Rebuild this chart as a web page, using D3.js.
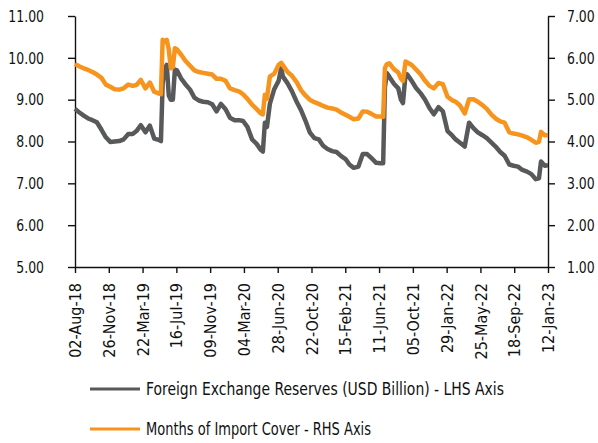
<!DOCTYPE html>
<html>
<head>
<meta charset="utf-8">
<script src="https://cdn.jsdelivr.net/npm/d3@7"></script>
<style>
  body { margin: 0; background: #fff; }
  svg text { font-family: "Liberation Sans Narrow", "DejaVu Sans", sans-serif; font-stretch: condensed; fill: #111; }
</style>
</head>
<body>
<div id="chart"></div>
<script>
// weekly-ish readings taken off the chart
const dates = [
  "2018-08-02","2018-08-16","2018-09-01","2018-09-16","2018-10-01","2018-10-16","2018-11-01","2018-11-16",
  "2018-12-01","2018-12-16","2019-01-01","2019-01-16","2019-02-01","2019-02-16","2019-03-01","2019-03-16",
  "2019-04-01","2019-04-16","2019-05-01","2019-05-16","2019-05-24","2019-05-30","2019-06-06","2019-06-13",
  "2019-06-20","2019-06-27","2019-07-04","2019-07-11","2019-07-18","2019-08-01","2019-08-16","2019-09-01",
  "2019-09-16","2019-10-01","2019-10-16","2019-11-01","2019-11-16","2019-12-01","2019-12-16","2020-01-01",
  "2020-01-16","2020-02-01","2020-02-16","2020-03-01","2020-03-16","2020-04-01","2020-04-16","2020-05-01",
  "2020-05-08","2020-05-15","2020-05-22","2020-06-01","2020-06-16","2020-07-01","2020-07-10","2020-07-16",
  "2020-08-01","2020-08-16","2020-09-01","2020-09-16","2020-10-01","2020-10-16","2020-11-01","2020-11-16",
  "2020-12-01","2020-12-16","2021-01-01","2021-01-16","2021-02-01","2021-02-16","2021-03-01","2021-03-16",
  "2021-04-01","2021-04-16","2021-05-01","2021-05-16","2021-06-01","2021-06-16","2021-06-25","2021-07-01",
  "2021-07-08","2021-07-16","2021-08-01","2021-08-16","2021-08-25","2021-09-01","2021-09-10","2021-09-16",
  "2021-10-01","2021-10-16","2021-11-01","2021-11-16","2021-12-01","2021-12-16","2022-01-01","2022-01-16",
  "2022-02-01","2022-02-16","2022-03-01","2022-03-16","2022-04-01","2022-04-16","2022-05-01","2022-05-16",
  "2022-06-01","2022-06-16","2022-07-01","2022-07-16","2022-08-01","2022-08-16","2022-09-01","2022-09-16",
  "2022-10-01","2022-10-16","2022-11-01","2022-11-16","2022-12-01","2022-12-12","2022-12-19","2023-01-01",
  "2023-01-12"
];

const fxReserves = [
  8.78, 8.70, 8.62, 8.55, 8.51, 8.46, 8.28, 8.10,
  7.99, 8.00, 8.01, 8.05, 8.18, 8.18, 8.25, 8.39,
  8.22, 8.38, 8.07, 8.04, 8.01, 9.40, 9.75, 9.83,
  9.10, 9.00, 9.00, 9.72, 9.70, 9.51, 9.37, 9.24,
  9.05, 8.98, 8.95, 8.94, 8.89, 8.72, 8.90, 8.77,
  8.57, 8.51, 8.51, 8.49, 8.35, 8.05, 7.95, 7.80,
  7.76, 8.45, 8.35, 8.90, 9.25, 9.45, 9.75, 9.55,
  9.39, 9.20, 8.95, 8.75, 8.50, 8.22, 8.08, 8.05,
  7.90, 7.82, 7.77, 7.75, 7.65, 7.58, 7.45, 7.37,
  7.40, 7.70, 7.70, 7.60, 7.49, 7.48, 7.48, 9.30,
  9.63, 9.55, 9.38, 9.27, 9.00, 8.92, 9.62, 9.60,
  9.45, 9.28, 9.15, 9.00, 8.80, 8.65, 8.82, 8.72,
  8.25, 8.15, 8.05, 7.97, 7.88, 8.45, 8.32, 8.22,
  8.15, 8.08, 7.98, 7.88, 7.75, 7.66, 7.45, 7.42,
  7.40, 7.32, 7.28, 7.22, 7.10, 7.12, 7.52, 7.42,
  7.43
];

const importCover = [
  5.85, 5.80, 5.75, 5.71, 5.66, 5.60, 5.52, 5.36,
  5.31, 5.25, 5.24, 5.27, 5.36, 5.33, 5.35, 5.47,
  5.27, 5.41, 5.19, 5.15, 5.13, 6.43, 6.38, 6.43,
  6.20, 5.75, 5.78, 6.23, 6.20, 6.08, 5.93, 5.81,
  5.70, 5.66, 5.64, 5.62, 5.60, 5.50, 5.50, 5.45,
  5.27, 5.23, 5.20, 5.13, 5.02, 4.88, 4.78, 4.67,
  4.65, 5.12, 5.02, 5.55, 5.62, 5.83, 5.88, 5.82,
  5.66, 5.57, 5.42, 5.23, 5.10, 5.00, 4.94, 4.90,
  4.85, 4.81, 4.79, 4.76, 4.69, 4.64, 4.59, 4.53,
  4.55, 4.72, 4.71, 4.66, 4.60, 4.60, 4.59, 5.75,
  5.85, 5.87, 5.73, 5.65, 5.50, 5.45, 5.91, 5.89,
  5.83, 5.72, 5.60, 5.45, 5.33, 5.27, 5.40, 5.37,
  5.07, 4.99, 4.95, 4.86, 4.67, 5.01, 5.01, 4.95,
  4.87, 4.78, 4.65, 4.55, 4.48, 4.45, 4.22, 4.19,
  4.17, 4.14, 4.10, 4.04, 3.97, 3.99, 4.23, 4.15,
  4.15
];

const xTicks = [
  "2018-08-02","2018-11-26","2019-03-22","2019-07-16","2019-11-09","2020-03-04","2020-06-28",
  "2020-10-22","2021-02-15","2021-06-11","2021-10-05","2022-01-29","2022-05-25","2022-09-18","2023-01-12"
];
const leftTicks = [5, 6, 7, 8, 9, 10, 11];
const rightTicks = [1, 2, 3, 4, 5, 6, 7];

const seriesNames = [
  "Foreign Exchange Reserves (USD Billion) - LHS Axis",
  "Months of Import Cover - RHS Axis"
];

const width = 598, height = 443;
const margin = { left: 75, right: 50, top: 16, bottom: 176 };
const grey = "#58595b", orange = "#f7941d";
const squeeze = 0.84; // no narrow face installed, so squash the value labels a bit

const parse = d3.timeParse("%Y-%m-%d");
const fmt = d3.timeFormat("%d-%b-%y");

const data = dates.map((d, i) => ({ date: parse(d), fx: fxReserves[i], cover: importCover[i] }));

const svg = d3.select("#chart").append("svg")
  .attr("width", width)
  .attr("height", height);

const x = d3.scaleTime()
  .domain([parse(xTicks[0]), parse(xTicks[xTicks.length - 1])])
  .range([margin.left, width - margin.right]);
const yL = d3.scaleLinear().domain([5, 11]).range([height - margin.bottom, margin.top]);
const yR = d3.scaleLinear().domain([1, 7]).range([height - margin.bottom, margin.top]);

function fitWidth(sel, w) {
  sel.each(function () {
    const len = this.getComputedTextLength();
    if (len > w) d3.select(this).attr("textLength", w).attr("lengthAdjust", "spacingAndGlyphs");
  });
}

// axes
const gx = svg.append("g")
  .attr("transform", `translate(0,${height - margin.bottom})`)
  .call(d3.axisBottom(x).tickValues(xTicks.map(parse)).tickFormat(fmt).tickSize(6).tickSizeOuter(0));
gx.selectAll("text")
  .attr("transform", "rotate(-90)")
  .attr("text-anchor", "end")
  .attr("x", -16)
  .attr("y", 0)
  .attr("dy", "0.35em")
  .style("font-size", "16px");

const gl = svg.append("g")
  .attr("transform", `translate(${margin.left},0)`)
  .call(d3.axisLeft(yL).tickValues(leftTicks).tickFormat(d3.format(".2f")).tickSize(7).tickSizeOuter(0));
gl.selectAll("text")
  .style("font-size", "16.5px")
  .attr("x", -31 / squeeze)
  .attr("transform", `scale(${squeeze},1)`);

const gr = svg.append("g")
  .attr("transform", `translate(${width - margin.right},0)`)
  .call(d3.axisRight(yR).tickValues(rightTicks).tickFormat(d3.format(".2f")).tickSize(7).tickSizeOuter(0));
gr.selectAll("text")
  .style("font-size", "16.5px")
  .attr("x", 19 / squeeze)
  .attr("transform", `scale(${squeeze},1)`);

svg.selectAll(".domain, .tick line").attr("stroke", "#111").attr("stroke-width", 1.4);

// lines
const lineL = d3.line().x(d => x(d.date)).y(d => yL(d.fx));
const lineR = d3.line().x(d => x(d.date)).y(d => yR(d.cover));

svg.append("path")
  .datum(data)
  .attr("fill", "none")
  .attr("stroke", grey)
  .attr("stroke-width", 4.5)
  .attr("stroke-linejoin", "round")
  .attr("d", lineL);

svg.append("path")
  .datum(data)
  .attr("fill", "none")
  .attr("stroke", orange)
  .attr("stroke-width", 4.5)
  .attr("stroke-linejoin", "round")
  .attr("d", lineR);

// legend
const legend = svg.append("g");
const legendWidths = [358, 225];
[grey, orange].forEach((c, i) => {
  const yy = 389 + i * 40;
  legend.append("line")
    .attr("x1", 90).attr("x2", 140)
    .attr("y1", yy).attr("y2", yy)
    .attr("stroke", c).attr("stroke-width", 3);
  legend.append("text")
    .attr("x", 146).attr("y", yy)
    .attr("dy", "0.35em")
    .style("font-size", "17px")
    .text(seriesNames[i])
    .call(fitWidth, legendWidths[i]);
});
</script>
</body>
</html>
